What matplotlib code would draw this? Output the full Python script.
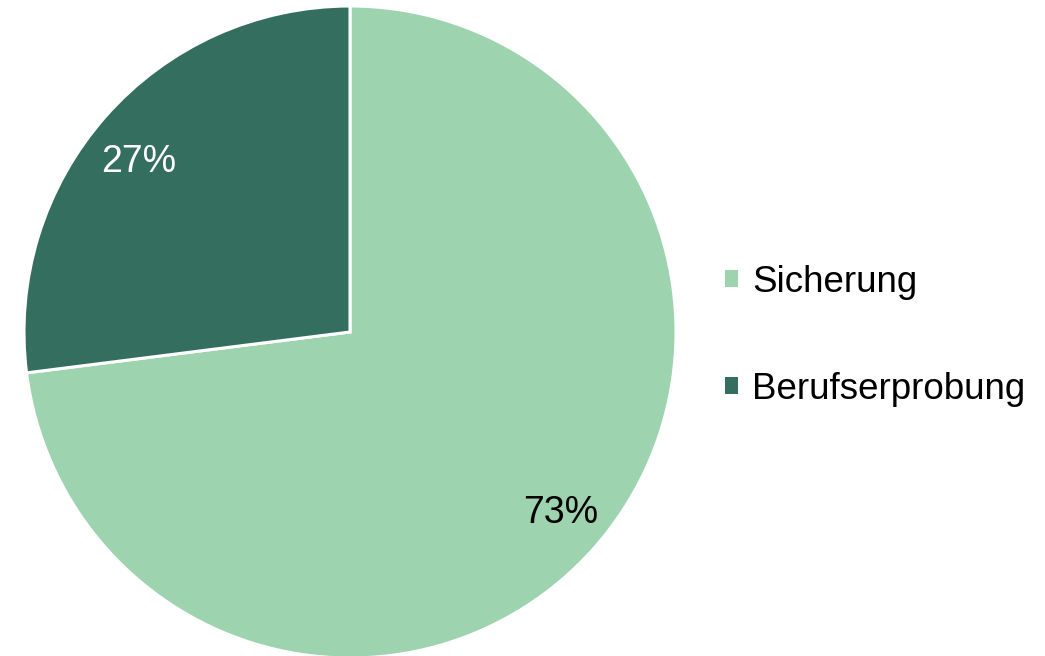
import matplotlib
matplotlib.use("Agg")
import matplotlib.pyplot as plt

labels = ["Sicherung", "Berufserprobung"]
values = [73, 27]
colors = ["#9DD3AE", "#346E5E"]
text_colors = ["black", "white"]
label_nudge_px = [(5, 0), (-6, 11)]  # (dx, dy) in pixels, y downwards

plt.rcParams['font.family'] = ['Liberation Sans', 'DejaVu Sans']

W, H = 1045, 656
fig = plt.figure(figsize=(W/100, H/100), dpi=100)
cx, cy, r = 350, 332, 326
ax = fig.add_axes([(cx - r)/W, (H - cy - r)/H, 2*r/W, 2*r/H])
wedges, texts, autotexts = ax.pie(values, colors=colors, startangle=90, counterclock=False,
                                  autopct='%1.0f%%', pctdistance=0.84, radius=1,
                                  wedgeprops=dict(edgecolor='white', linewidth=2.2),
                                  textprops=dict(fontsize=27))
for t, c, (dx, dy) in zip(autotexts, text_colors, label_nudge_px):
    t.set_color(c)
    x, y = t.get_position()
    t.set_position((x + dx / r, y - dy / r))
ax.set_xlim(-1, 1)
ax.set_ylim(-1, 1)
ax.set_aspect('equal')
ax.axis('off')

leg = fig.legend(wedges, labels, loc='center left', bbox_to_anchor=(0.694, 0.488),
                 frameon=False, fontsize=26.5, handlelength=0.34, handleheight=0.34,
                 handletextpad=0.4, labelspacing=1.95, borderpad=0, borderaxespad=0)
for h in leg.legend_handles:
    h.set_edgecolor('none')

fig.savefig("out.png", dpi=100)
